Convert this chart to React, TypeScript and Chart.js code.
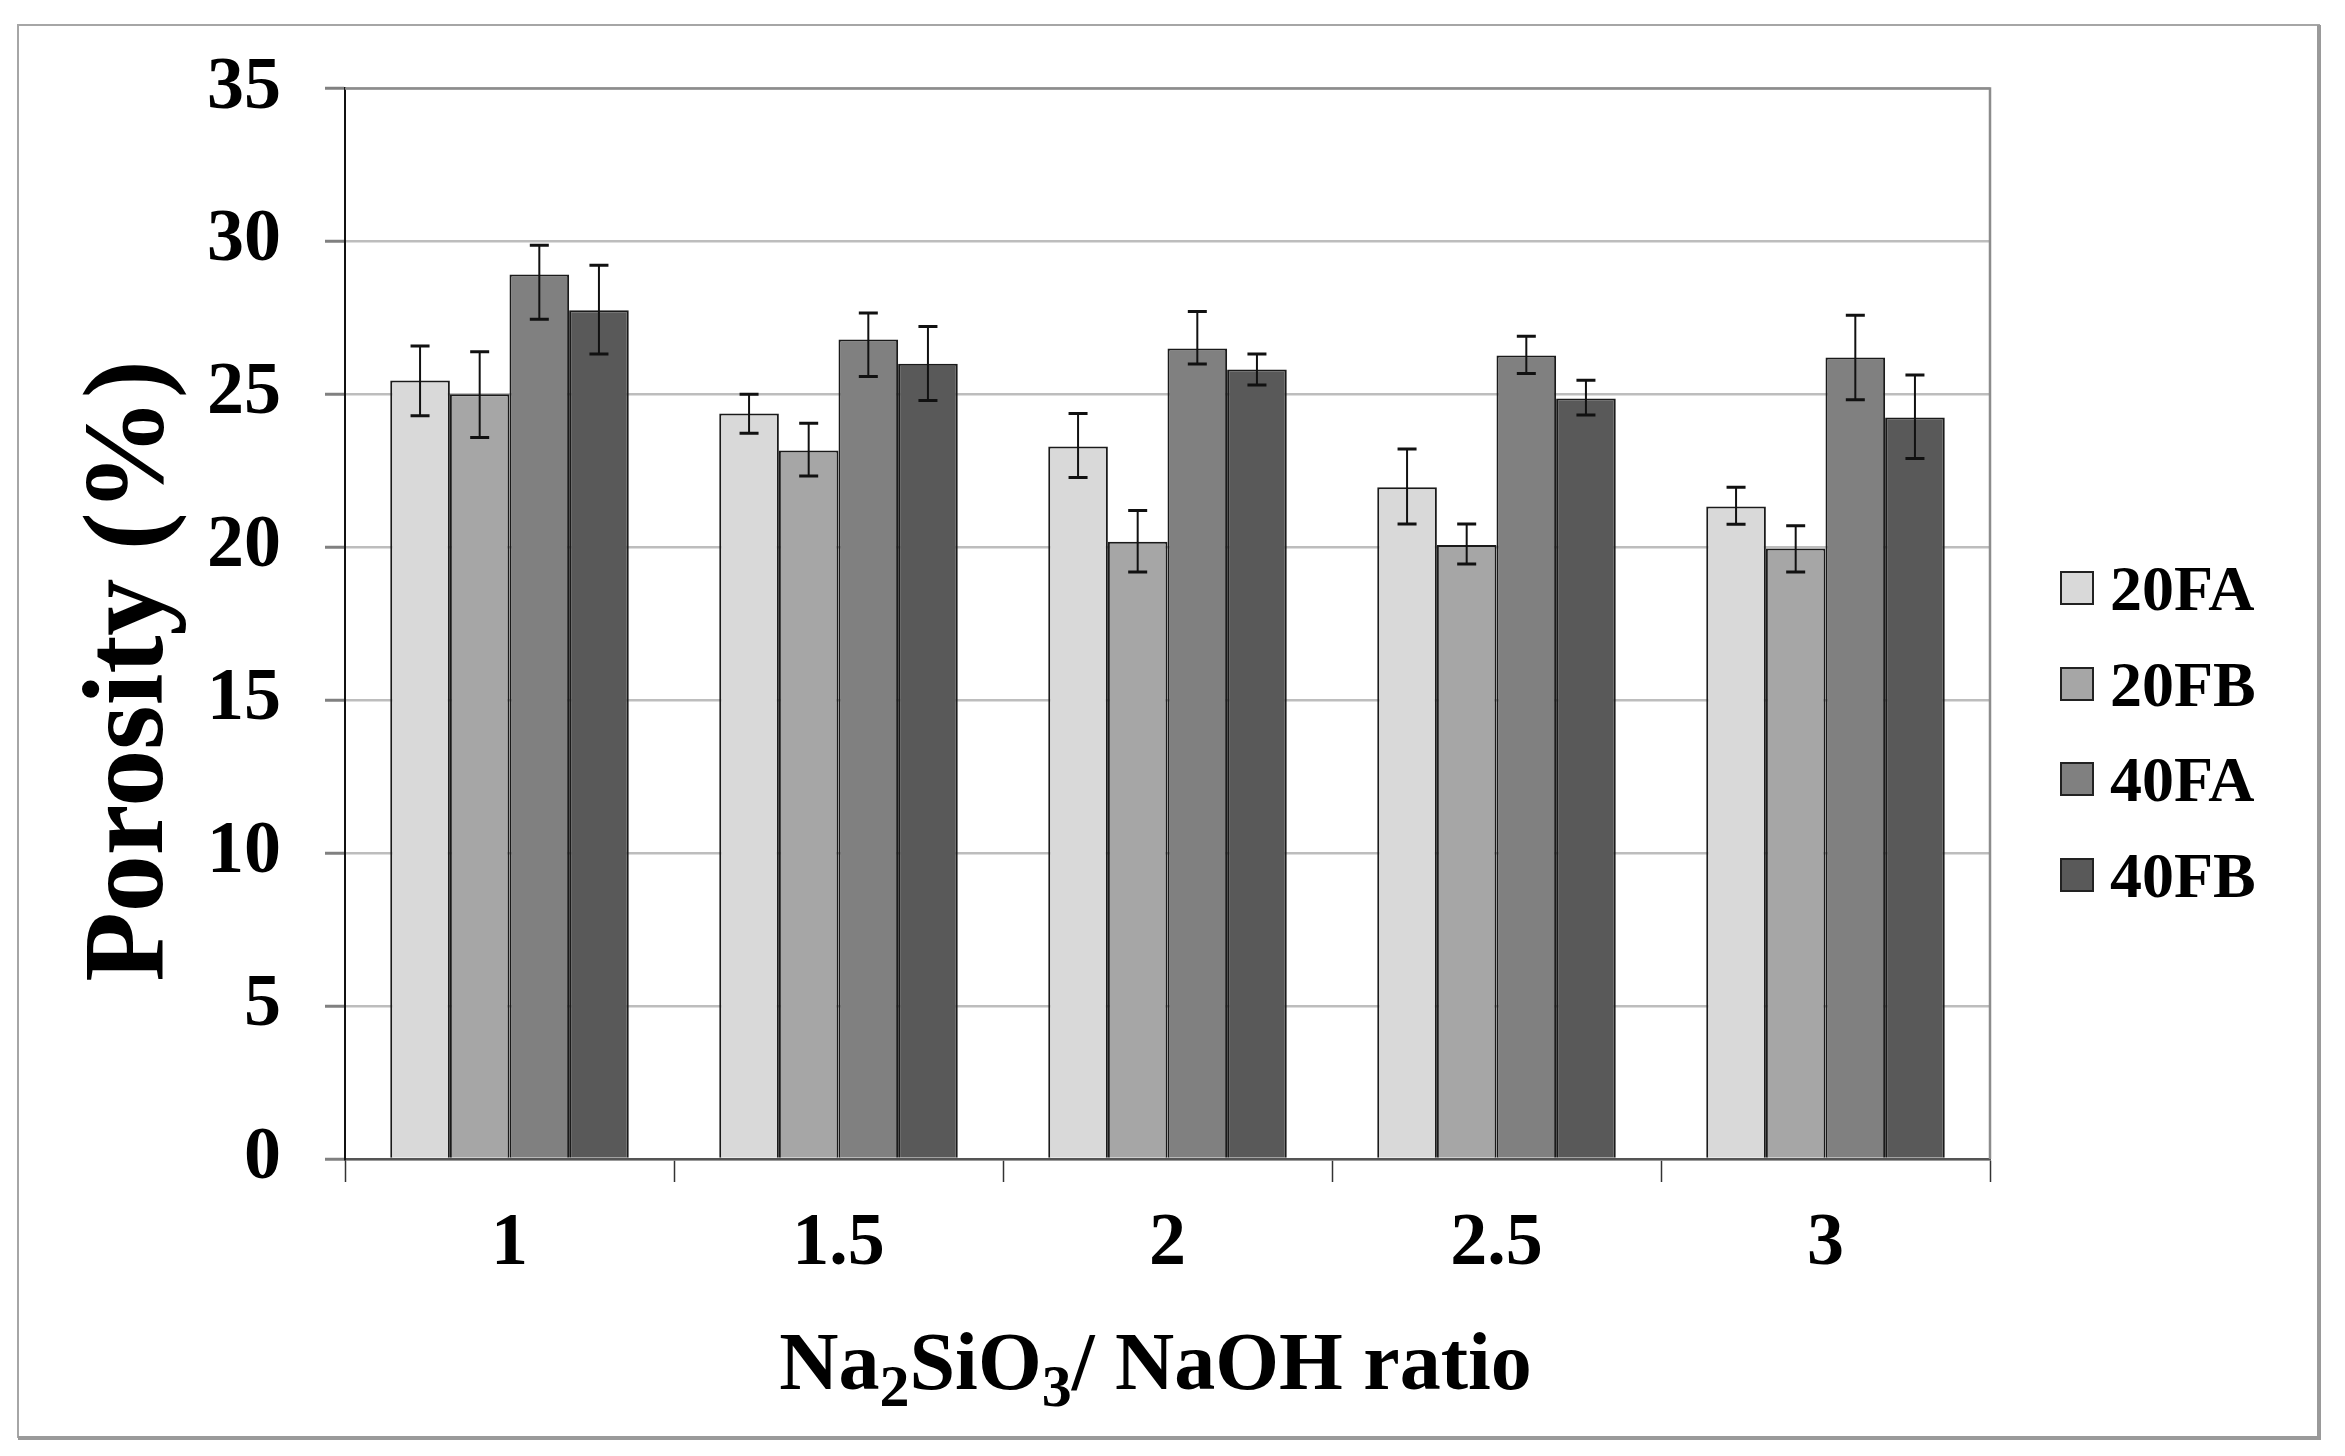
import React, { useEffect, useRef } from "react";
import { Chart, registerables } from "chart.js";

Chart.register(...registerables);

// ---- data ----
const categories = ["1", "1.5", "2", "2.5", "3"];
const seriesNames = ["20FA", "20FB", "40FA", "40FB"];
const seriesColors = ["#d9d9d9", "#a6a6a6", "#808080", "#595959"];

const values20FA = [25.45, 24.37, 23.29, 21.96, 21.33];
const values20FB = [25.0, 23.16, 20.18, 20.07, 19.96];
const values40FA = [28.92, 26.79, 26.5, 26.27, 26.2];
const values40FB = [27.75, 26.0, 25.81, 24.86, 24.24];

// error bar extents (above / below the bar value)
const errUp20FA = [1.13, 0.63, 1.08, 1.25, 0.63];
const errDown20FA = [1.15, 0.64, 1.01, 1.2, 0.58];
const errUp20FB = [1.39, 0.89, 1.02, 0.69, 0.74];
const errDown20FB = [1.41, 0.83, 0.99, 0.62, 0.77];
const errUp40FA = [0.95, 0.87, 1.21, 0.63, 1.38];
const errDown40FA = [1.47, 1.21, 0.51, 0.59, 1.38];
const errUp40FB = [1.47, 1.22, 0.51, 0.6, 1.39];
const errDown40FB = [1.43, 1.2, 0.51, 0.54, 1.34];

const yTickMin = 0;
const yTickMax = 35;
const yTickStep = 5;

const yTitle = "Porosity (%)";
// x title pieces: [text, isSubscript]
const xTitleParts: [string, boolean][] = [
  ["Na", false],
  ["2", true],
  ["SiO", false],
  ["3", true],
  ["/ NaOH ratio", false],
];

const FONT = "'Liberation Serif', 'Times New Roman', serif";

const W = 2345;
const H = 1456;

export default function App() {
  const canvasRef = useRef<HTMLCanvasElement | null>(null);

  useEffect(() => {
    const canvas = canvasRef.current;
    if (!canvas) return;

    const seriesValues = [values20FA, values20FB, values40FA, values40FB];
    const seriesUp = [errUp20FA, errUp20FB, errUp40FA, errUp40FB];
    const seriesDown = [errDown20FA, errDown20FB, errDown40FA, errDown40FB];

    const backgroundPlugin = {
      id: "bgFrame",
      beforeDraw(chart: any) {
        const ctx = chart.ctx;
        ctx.save();
        ctx.fillStyle = "#ffffff";
        ctx.fillRect(0, 0, chart.width, chart.height);
        // outer frame
        ctx.strokeStyle = "#a6a6a6";
        ctx.lineWidth = 2;
        ctx.strokeRect(18, 25, 2301, 1412);
        ctx.strokeStyle = "#9a9a9a";
        ctx.lineWidth = 4;
        ctx.beginPath();
        ctx.moveTo(18, 1438);
        ctx.lineTo(2321, 1438);
        ctx.moveTo(2319, 25);
        ctx.lineTo(2319, 1438);
        ctx.stroke();
        ctx.restore();
      },
      beforeDatasetsDraw(chart: any) {
        const ctx = chart.ctx;
        const a = chart.chartArea;
        ctx.save();
        ctx.strokeStyle = "#8c8c8c";
        ctx.lineWidth = 2.5;
        ctx.beginPath();
        ctx.moveTo(a.left, a.top);
        ctx.lineTo(a.right, a.top);
        ctx.lineTo(a.right, a.bottom);
        ctx.stroke();
        ctx.restore();
      },
    };

    const errorBarPlugin = {
      id: "errorBars",
      afterDatasetsDraw(chart: any) {
        const ctx = chart.ctx;
        const yScale = chart.scales.y;
        ctx.save();
        ctx.strokeStyle = "#111111";
        chart.data.datasets.forEach((ds: any, di: number) => {
          const meta = chart.getDatasetMeta(di);
          meta.data.forEach((bar: any, i: number) => {
            const v = seriesValues[di][i];
            const yTop = yScale.getPixelForValue(v + seriesUp[di][i]);
            const yBot = yScale.getPixelForValue(v - seriesDown[di][i]);
            const x = bar.x;
            const cap = 9.5;
            ctx.lineWidth = 2;
            ctx.beginPath();
            ctx.moveTo(x, yTop);
            ctx.lineTo(x, yBot);
            ctx.stroke();
            ctx.lineWidth = 3;
            ctx.beginPath();
            ctx.moveTo(x - cap, yTop);
            ctx.lineTo(x + cap, yTop);
            ctx.moveTo(x - cap, yBot);
            ctx.lineTo(x + cap, yBot);
            ctx.stroke();
          });
        });
        ctx.restore();
      },
    };

    const textPlugin = {
      id: "titlesLegend",
      afterDraw(chart: any) {
        const ctx = chart.ctx;
        const a = chart.chartArea;
        ctx.save();
        ctx.fillStyle = "#000000";

        // y axis title (rotated)
        ctx.save();
        ctx.font = `bold 114px ${FONT}`;
        ctx.textAlign = "center";
        ctx.textBaseline = "alphabetic";
        ctx.translate(162, 671);
        ctx.rotate(-Math.PI / 2);
        ctx.fillText(yTitle, 0, 0);
        ctx.restore();

        // x axis title with subscripts
        const mainSize = 82;
        const subSize = 60;
        const widths = xTitleParts.map(([t, sub]) => {
          ctx.font = `bold ${sub ? subSize : mainSize}px ${FONT}`;
          return ctx.measureText(t).width;
        });
        const total = widths.reduce((s, w) => s + w, 0);
        let x = (a.left + a.right) / 2 - 12 - total / 2;
        const baseline = 1389;
        ctx.textAlign = "left";
        ctx.textBaseline = "alphabetic";
        xTitleParts.forEach(([t, sub], i) => {
          ctx.font = `bold ${sub ? subSize : mainSize}px ${FONT}`;
          ctx.fillText(t, x, sub ? baseline + 17 : baseline);
          x += widths[i];
        });

        // legend
        const rows = [588, 684, 779, 875];
        chart.data.datasets.forEach((ds: any, i: number) => {
          const cy = rows[i];
          ctx.fillStyle = ds.backgroundColor;
          ctx.fillRect(2061, cy - 16, 32, 32);
          ctx.strokeStyle = "#222222";
          ctx.lineWidth = 2;
          ctx.strokeRect(2061, cy - 16, 32, 32);
          ctx.fillStyle = "#000000";
          ctx.font = `bold 64px ${FONT}`;
          ctx.textAlign = "left";
          ctx.textBaseline = "alphabetic";
          ctx.fillText(ds.label, 2110, cy + 22);
        });
        ctx.restore();
      },
    };

    const chart = new Chart(canvas, {
      type: "bar",
      data: {
        labels: categories,
        datasets: seriesNames.map((name, i) => ({
          label: name,
          data: seriesValues[i],
          backgroundColor: seriesColors[i],
          borderColor: "#1a1a1a",
          borderWidth: 2,
          borderSkipped: "bottom",
          categoryPercentage: 0.725,
          barPercentage: 1.0,
        })),
      },
      options: {
        animation: false,
        responsive: false,
        devicePixelRatio: 1,
        layout: { padding: { left: 0, top: 84.5, right: 355, bottom: 0 } },
        plugins: {
          legend: { display: false },
          tooltip: { enabled: false },
          title: { display: false },
        },
        scales: {
          x: {
            offset: true,
            grid: {
              offset: true,
              drawOnChartArea: false,
              drawTicks: true,
              tickLength: 23,
              tickColor: "#333333",
              tickWidth: 1.5,
            },
            border: { display: true, color: "#555555", width: 2.5 },
            ticks: {
              color: "#000000",
              padding: 18,
              font: { family: FONT, size: 74, weight: "bold" },
            },
            afterFit: (s: any) => {
              s.height = 297;
            },
          },
          y: {
            min: yTickMin,
            max: yTickMax,
            ticks: {
              stepSize: yTickStep,
              color: "#000000",
              padding: 44,
              font: { family: FONT, size: 74, weight: "bold" },
            },
            grid: {
              color: "#bdbdbd",
              lineWidth: 2.5,
              drawTicks: true,
              tickLength: 20,
              tickColor: "#808080",
              tickWidth: 3,
            },
            border: { display: true, color: "#111111", width: 2 },
            afterFit: (s: any) => {
              s.width = 345;
            },
          },
        },
      },
      plugins: [backgroundPlugin, errorBarPlugin, textPlugin],
    });

    return () => {
      chart.destroy();
    };
  }, []);

  return (
    <div style={{ position: "absolute", left: 0, top: 0, width: W, height: H, background: "#fff" }}>
      <canvas ref={canvasRef} width={W} height={H} style={{ width: W, height: H, display: "block" }} />
    </div>
  );
}
